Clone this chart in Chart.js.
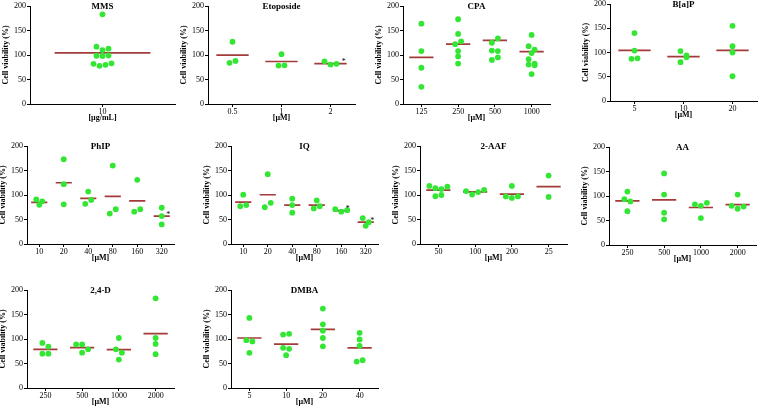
<!DOCTYPE html>
<html>
<head>
<meta charset="utf-8">
<script src="https://cdn.jsdelivr.net/npm/chart.js@4.4.1/dist/chart.umd.min.js"></script>
<style>
  html, body { margin: 0; padding: 0; background: #fff; overflow: hidden; }
  #fig { position: relative; width: 758px; height: 408px; }
  #fig canvas { position: absolute; }
</style>
</head>
<body>
<div id="fig"></div>
<script>
// values, cell viability in %
const mmsDoses = ['10'];
const mmsValues = [[183, 117, 110, 113, 98.5, 98, 99, 82, 78, 80, 83]];
const mmsMeans = [104.5];

const etoDoses = ['0.5', '1', '2'];
const etoValues = [[127, 84, 88], [101.7, 78.5, 79], [87, 80.5, 82]];
const etoMeans = [99.7, 86.7, 82.6];
const etoStars = [2];

const cpaDoses = ['125', '250', '500', '1000'];
const cpaValues = [
  [164, 108, 74, 35],
  [173, 143, 122, 128, 108, 97, 82.6],
  [125, 133.8, 109, 108, 90, 95],
  [141, 118, 111, 104, 91.5, 80.5, 79, 82.6, 61],
];
const cpaMeans = [95, 122, 130, 107];

const bapDoses = ['5', '10', '20'];
const bapValues = [[140, 104, 87, 88], [103, 94, 80, 90], [155, 113, 100, 51]];
const bapMeans = [104.5, 91.4, 104.5];

const phipDoses = ['10', '20', '40', '80', '160', '320'];
const phipValues = [[91, 80, 87], [173, 122, 81], [107, 82, 90], [160, 62, 71], [131, 66, 71], [74, 57, 40]];
const phipMeans = [85, 125, 93, 97, 88, 57];
const phipStars = [5];

const iqDoses = ['10', '20', '40', '80', '160', '320'];
const iqValues = [[100.7, 77, 79.5], [142.5, 75, 84], [92.5, 79.5, 64], [89, 72.6, 77], [71, 66, 69], [53, 37, 44.5]];
const iqMeans = [85.5, 100.5, 79.5, 79.5, 68, 44.5];
const iqStars = [4, 5];

const aafDoses = ['50', '100', '200', '25'];
const aafValues = [[118.6, 114, 112, 117, 97.6, 100], [108, 101, 106, 110.5], [118.6, 97, 94, 97], [139.7, 96]];
const aafMeans = [110, 106.4, 101.7, 117];

const aaDoses = ['250', '500', '1000', '2000'];
const aaValues = [[109, 93.5, 89, 69], [146, 103, 66, 52.5], [83, 80, 86, 55], [103, 80, 74, 78.5]];
const aaMeans = [90, 92, 76.5, 82.6];

const dDoses = ['250', '500', '1000', '2000'];
const dValues = [[92, 84.6, 70, 70], [89, 89, 72, 79], [102, 79, 72, 58], [183, 102, 90, 69]];
const dMeans = [79, 82.6, 78.5, 111];

const dmbaDoses = ['5', '10', '20', '40'];
const dmbaValues = [[143, 97.6, 95, 71.7], [109, 110.6, 82, 80, 67], [162, 130, 117, 102, 85], [112.6, 99, 86, 54, 56.6]];
const dmbaMeans = [102, 89.4, 119.5, 82];

const panels = [
  { title: 'MMS', unit: '[µg/mL]', doses: mmsDoses, values: mmsValues, means: mmsMeans, stars: [] },
  { title: 'Etoposide', unit: '[µM]', doses: etoDoses, values: etoValues, means: etoMeans, stars: etoStars },
  { title: 'CPA', unit: '[µM]', doses: cpaDoses, values: cpaValues, means: cpaMeans, stars: [] },
  { title: 'B[a]P', unit: '[µM]', doses: bapDoses, values: bapValues, means: bapMeans, stars: [] },
  { title: 'PhIP', unit: '[µM]', doses: phipDoses, values: phipValues, means: phipMeans, stars: phipStars },
  { title: 'IQ', unit: '[µM]', doses: iqDoses, values: iqValues, means: iqMeans, stars: iqStars },
  { title: '2-AAF', unit: '[µM]', doses: aafDoses, values: aafValues, means: aafMeans, stars: [] },
  { title: 'AA', unit: '[µM]', doses: aaDoses, values: aaValues, means: aaMeans, stars: [] },
  { title: '2,4-D', unit: '[µM]', doses: dDoses, values: dValues, means: dMeans, stars: [] },
  { title: 'DMBA', unit: '[µM]', doses: dmbaDoses, values: dmbaValues, means: dmbaMeans, stars: [] },
];

// where each plot area sits on the page: y axis x, top (200) and bottom (0), width
const boxes = [
  { x: 30, top: 6, bottom: 104, w: 145 },
  { x: 208, top: 6, bottom: 104, w: 147 },
  { x: 403, top: 6, bottom: 104, w: 147 },
  { x: 610, top: 4, bottom: 101, w: 147 },
  { x: 27, top: 146, bottom: 244, w: 147 },
  { x: 231, top: 146, bottom: 244, w: 147 },
  { x: 420, top: 146, bottom: 244, w: 147 },
  { x: 609, top: 147, bottom: 245, w: 147 },
  { x: 27, top: 290, bottom: 388, w: 147 },
  { x: 231, top: 290, bottom: 388, w: 147 },
];

const GREEN = '#33e633';
const RED = '#a33b3b';
const AXIS_W = 30, TICK_H = 20, PAD_T = 8, PAD_R = 1;
const DOT_STEP = 6, ROW_GAP = 5;

Chart.defaults.font.family = '"Liberation Serif", "Times New Roman", serif';
Chart.defaults.color = '#000';

// spread dots of a column sideways like a scatter dot plot
const dodge = {
  id: 'dodge',
  afterDatasetsUpdate(chart) {
    const meta = chart.getDatasetMeta(0);
    const raw = chart.data.datasets[0].data;
    const groups = new Map();
    meta.data.forEach((el, i) => {
      if (!groups.has(raw[i].x)) groups.set(raw[i].x, []);
      groups.get(raw[i].x).push({ el, i });
    });
    groups.forEach(list => {
      const sorted = [...list].sort((a, b) => a.el.y - b.el.y);
      let row = [];
      const flush = () => {
        row.sort((a, b) => a.i - b.i);
        row.forEach((d, k) => { d.el.x += (k - (row.length - 1) / 2) * DOT_STEP; });
        row = [];
      };
      sorted.forEach(d => {
        if (row.length && d.el.y - row[0].el.y > ROW_GAP) flush();
        row.push(d);
      });
      flush();
    });
  }
};

const panelTitle = {
  id: 'panelTitle',
  afterDraw(chart, args, opts) {
    const { ctx, chartArea } = chart;
    ctx.save();
    ctx.font = 'bold 9px "Liberation Serif"';
    ctx.textAlign = 'center';
    ctx.textBaseline = 'middle';
    ctx.fillStyle = '#000';
    ctx.fillText(opts.text, (chartArea.left + chartArea.right) / 2, chartArea.top + 1);
    ctx.restore();
  }
};

const stars = {
  id: 'stars',
  afterDatasetsDraw(chart, args, opts) {
    const { ctx, scales } = chart;
    ctx.save();
    ctx.font = '8px "Liberation Serif"';
    ctx.textAlign = 'center';
    ctx.textBaseline = 'middle';
    ctx.fillStyle = '#000';
    opts.at.forEach(i => {
      ctx.fillText('*', scales.x.getPixelForValue(i + 0.27), scales.y.getPixelForValue(opts.means[i]) - 1.5);
    });
    ctx.restore();
  }
};

const fig = document.getElementById('fig');

panels.forEach((p, k) => {
  const b = boxes[k];
  const W = AXIS_W + b.w + PAD_R;
  const H = PAD_T + (b.bottom - b.top) + TICK_H;
  const canvas = document.createElement('canvas');
  canvas.width = W;
  canvas.height = H;
  canvas.style.left = (b.x - AXIS_W) + 'px';
  canvas.style.top = (b.top - PAD_T) + 'px';
  canvas.style.width = W + 'px';
  canvas.style.height = H + 'px';
  fig.appendChild(canvas);

  const dots = [];
  p.values.forEach((vals, i) => vals.forEach(v => dots.push({ x: i, y: v })));
  const bars = [];
  p.means.forEach((m, i) => bars.push({ x: i - 0.33, y: m }, { x: i + 0.33, y: m }, { x: i + 0.5, y: null }));

  new Chart(canvas, {
    type: 'scatter',
    data: {
      datasets: [
        { data: dots, pointRadius: 2.9, pointBackgroundColor: GREEN, pointBorderWidth: 0 },
        { data: bars, showLine: true, pointRadius: 0, borderColor: RED, borderWidth: 1.7, spanGaps: false },
      ]
    },
    options: {
      responsive: false,
      animation: false,
      devicePixelRatio: 1,
      layout: { padding: { top: PAD_T, right: PAD_R, left: 0, bottom: 0 }, autoPadding: false },
      plugins: {
        legend: { display: false },
        tooltip: { enabled: false },
        panelTitle: { text: p.title },
        stars: { at: p.stars, means: p.means },
      },
      scales: {
        x: {
          type: 'linear',
          min: -0.5,
          max: p.doses.length - 0.5,
          afterBuildTicks: s => { s.ticks = p.doses.map((_, i) => ({ value: i })); },
          afterFit: s => { s.height = TICK_H; },
          ticks: { callback: v => p.doses[v], font: { size: 8 }, padding: 0, maxRotation: 0, autoSkip: false },
          grid: { drawOnChartArea: false, tickLength: 3, color: '#000' },
          border: { color: '#000' },
          title: { display: true, text: p.unit, font: { size: 8, weight: 'bold' }, padding: { top: 0, bottom: 1 } },
        },
        y: {
          min: 0,
          max: 200,
          afterFit: s => { s.width = AXIS_W; },
          ticks: { stepSize: 50, font: { size: 8 }, padding: 1 },
          grid: { drawOnChartArea: false, tickLength: 3, color: '#000' },
          border: { color: '#000' },
          title: { display: true, text: 'Cell viability (%)', font: { size: 8, weight: 'bold' }, padding: { top: 1, bottom: 0 } },
        }
      }
    },
    plugins: [dodge, panelTitle, stars]
  });
});
</script>
</body>
</html>
